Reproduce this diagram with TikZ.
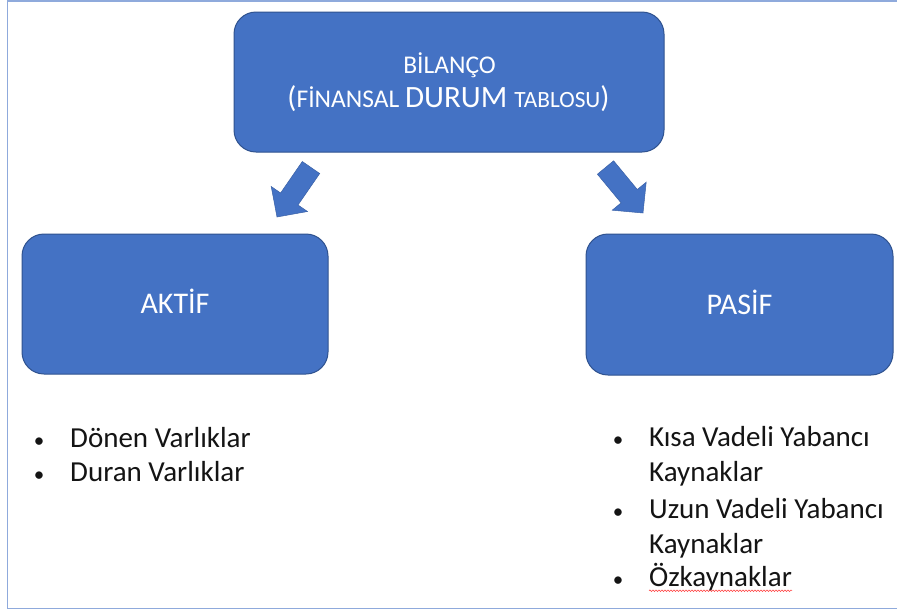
\documentclass[tikz,border=0pt]{standalone}
\usepackage{fontspec}
\setmainfont{Carlito}
\usetikzlibrary{decorations.pathmorphing}
\definecolor{boxfill}{HTML}{4472C4}
\definecolor{boxline}{HTML}{2F528F}
\definecolor{framecol}{RGB}{143,170,220}
\definecolor{textcol}{RGB}{20,20,20}
\tikzset{
  box/.style={draw=boxline, line width=1pt, fill=boxfill, rounded corners=22pt, inner sep=0pt},
  boxtext/.style={text=white, anchor=base, inner sep=0pt, font=\fontsize{30}{34}\selectfont},
  blockarrow/.style={fill=boxfill, draw=boxfill!85!black, line width=0.5pt, line join=miter},
  itemtext/.style={anchor=base west, inner sep=0pt, text=textcol, font=\fontsize{29}{34}\selectfont},
  bulletdot/.style={anchor=base, inner sep=0pt, text=textcol, font=\fontsize{21}{26}\selectfont},
}
\begin{document}
\begin{tikzpicture}[x=1pt,y=-1pt]
\useasboundingbox (0,0) rectangle (897,614);
\fill[white] (0,0) rectangle (897,614);
% frame
\draw[framecol, line width=1.6pt] (905,0.8) -- (7.6,0.8) -- (7.6,608.6) -- (905,608.6);
% boxes
\node[box, minimum width=430pt, minimum height=140pt] (top) at (449,82) {};
\node[text=white, anchor=base, inner sep=0pt, font=\fontsize{25.5}{30}\selectfont] (l1) at (449.5,73) {BİLANÇO};
\node[text=white, anchor=base, inner sep=0pt] (l2) at (448.5,107)
  {\fontsize{30}{34}\selectfont(\fontsize{25.5}{30}\selectfont FİNANSAL \fontsize{31}{35}\selectfont DURUM \fontsize{23.3}{28}\selectfont TABLOSU\fontsize{30}{34}\selectfont)};
\node[box, minimum width=306pt, minimum height=140pt] (aktif) at (175,304) {};
\node[boxtext] (aktiftext) at (175,313) {AKTİF};
\node[box, minimum width=307pt, minimum height=141pt] (pasif) at (739.5,304.5) {};
\node[boxtext] (pasiftext) at (739.5,314) {PASİF};
% block arrows
\draw[blockarrow] (319.7,173.5) -- (302.3,161.5) -- (280.6,193.0) -- (271.2,186.5) -- (277,217) -- (307.5,211.5) -- (298,205) -- cycle;
\draw[blockarrow] (613.6,160.8) -- (597.4,174.2) -- (621.1,202.9) -- (612.2,210.2) -- (643,213) -- (646.2,182.2) -- (637.3,189.5) -- cycle;
% left list
\node[bulletdot] (b1) at (39,447) {•};
\node[itemtext] (t1) at (70,447) {Dönen Varlıklar};
\node[bulletdot] (b2) at (39,481.5) {•};
\node[itemtext] (t2) at (70,481.5) {Duran Varlıklar};
% right list
\node[bulletdot] (b3) at (618,446.7) {•};
\node[itemtext] (t3) at (649,446.7) {Kısa Vadeli Yabancı};
\node[itemtext] (t4) at (649,481.7) {Kaynaklar};
\node[bulletdot] (b4) at (618,518) {•};
\node[itemtext] (t5) at (649,518) {Uzun Vadeli Yabancı};
\node[itemtext] (t6) at (649,553) {Kaynaklar};
\node[bulletdot] (b5) at (618,586.7) {•};
\node[itemtext] (t7) at (649,586.7) {Özkaynaklar};
\draw[red!80!white, line width=0.5pt, decorate, decoration={snake, amplitude=0.8pt, segment length=3pt}]
  ([yshift=-4pt]t7.base west) -- ([yshift=-4pt]t7.base east);
\end{tikzpicture}
\end{document}
